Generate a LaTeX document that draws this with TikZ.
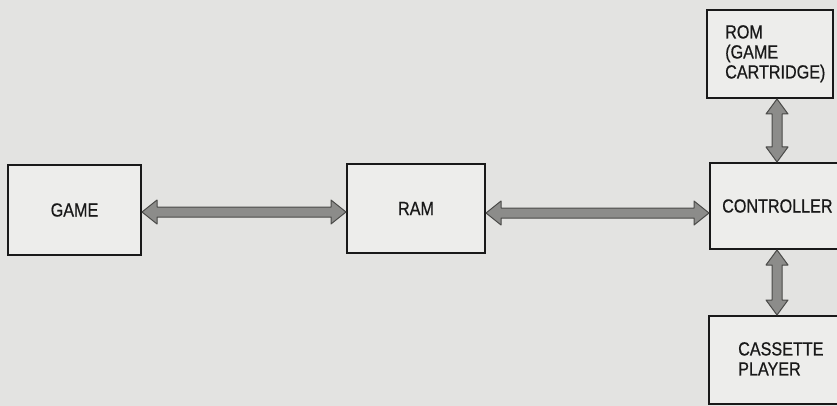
\documentclass[tikz,border=0pt]{standalone}
\usepackage{fontspec}
\setmainfont[FakeStretch=0.85,FakeBold=0.6]{Liberation Sans}
\usetikzlibrary{calc}
\definecolor{bg}{HTML}{E3E3E1}
\definecolor{boxfill}{HTML}{EDEDEB}
\definecolor{arrfill}{HTML}{8C8C8A}
\definecolor{arrline}{HTML}{4A4A48}
\tikzset{
  blk/.style={draw=black!90, line width=2pt, fill=boxfill, inner sep=0pt},
  lbl/.style={font=\fontsize{19}{20}\selectfont, text=black!90, inner sep=0pt, align=left},
  fat/.style={fill=arrfill, draw=arrline, line width=1pt, line join=round}
}
\newcommand{\hfat}[3]{% from (#1.east) to (#2.west) at y #3
  \draw[fat] let \p1=(#1.east), \p2=(#2.west) in
    (\x1,#3) -- (\x1+15,#3-12) -- (\x1+15,#3-5) -- (\x2-15,#3-5) -- (\x2-15,#3-12)
    -- (\x2,#3) -- (\x2-15,#3+12) -- (\x2-15,#3+5) -- (\x1+15,#3+5) -- (\x1+15,#3+12) -- cycle;}
\newcommand{\vfat}[3]{% from (#1.south) to (#2.north) at x #3
  \draw[fat] let \p1=(#1.south), \p2=(#2.north) in
    (#3,\y1) -- (#3-11,\y1-15) -- (#3-5,\y1-15) -- (#3-5,\y2+15) -- (#3-11,\y2+15)
    -- (#3,\y2) -- (#3+11,\y2+15) -- (#3+5,\y2+15) -- (#3+5,\y1-15) -- (#3+11,\y1-15) -- cycle;}
\begin{document}
\begin{tikzpicture}[x=1pt,y=-1pt]
\useasboundingbox (0,0) rectangle (837,406);
\clip (0,0) rectangle (837,406);
\fill[bg] (0,0) rectangle (837,406);
% boxes
\node[blk, minimum width=133pt, minimum height=90pt] (game) at (74.5,210) {};
\node[blk, minimum width=138pt, minimum height=89pt] (ram) at (416,208.5) {};
\node[blk, minimum width=140pt, minimum height=86pt] (ctrl) at (780,206) {};
\node[blk, minimum width=126pt, minimum height=88pt] (rom) at (770,54) {};
\node[blk, minimum width=132pt, minimum height=88pt] (cas) at (775,360) {};
% labels
\node[lbl] (tgame) at (game) {GAME};
\node[lbl] (tram) at (ram) {RAM};
\node[lbl, anchor=west] (tctrl) at (722,206) {CONTROLLER};
\node[lbl, anchor=north west] (trom) at (725,25) {ROM\\(GAME\\CARTRIDGE)};
\node[lbl, anchor=north west] (tcas) at (738,342) {CASSETTE\\PLAYER};
% arrows
\hfat{game}{ram}{212}
\hfat{ram}{ctrl}{213}
\vfat{rom}{ctrl}{777}
\vfat{ctrl}{cas}{777}
\end{tikzpicture}
\end{document}
